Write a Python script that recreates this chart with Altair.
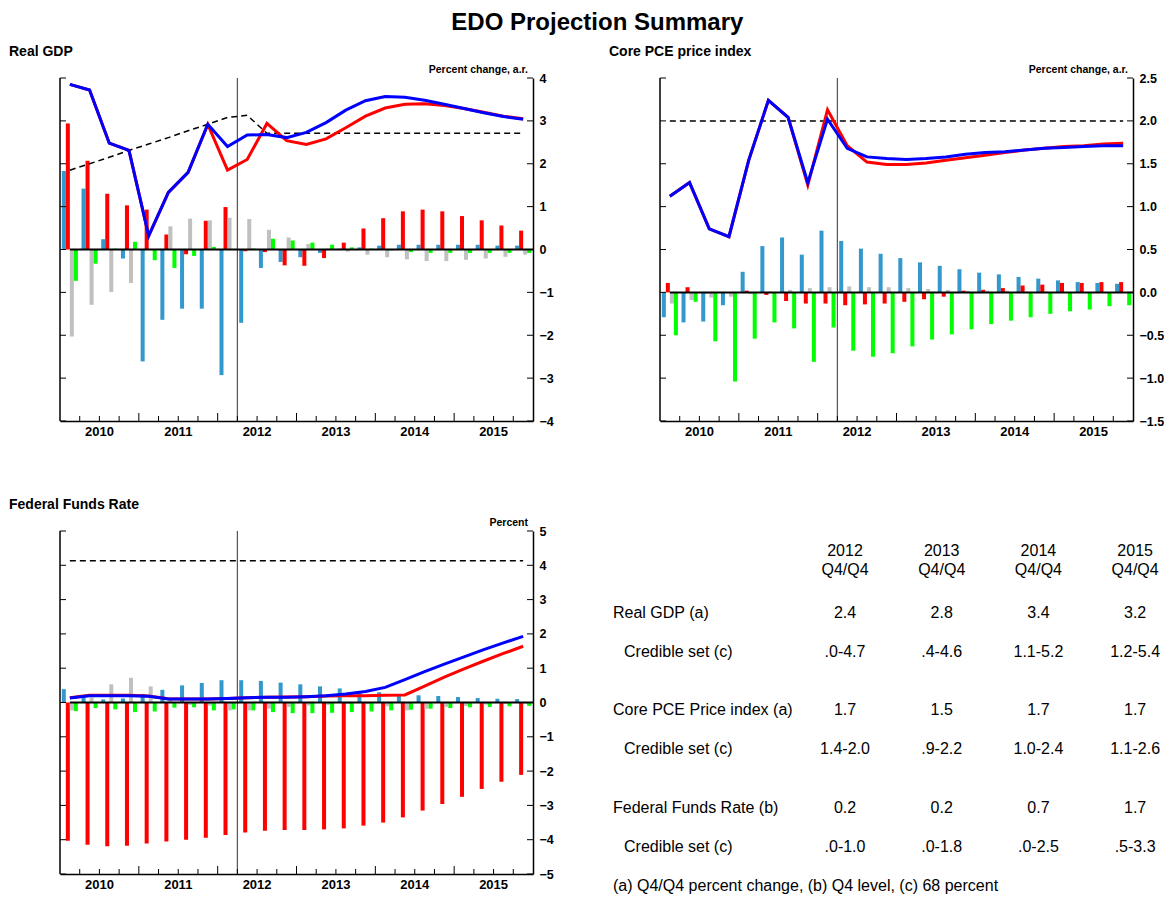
import altair as alt
import pandas as pd

FONT = "Liberation Sans"

QUARTERS = [f"{y}Q{q}" for y in range(2010, 2016) for q in range(1, 5)]
BAR_SERIES = ["s1", "s2", "s3", "s4"]
BAR_COLORS = ["#3399CC", "#FF0000", "#C0C0C0", "#00FF00"]
PROJECTION_START = "2012Q2"

# ---------------- Real GDP ----------------
GDP_S1 = [1.83, 1.42, 0.24, -0.21, -2.61, -1.64, -1.38, -1.38, -2.93, -1.71, -0.43, -0.29,
          -0.18, -0.08, 0.02, 0.05, 0.09, 0.11, 0.11, 0.11, 0.11, 0.11, 0.09, 0.09]
GDP_S2 = [2.94, 2.07, 1.30, 1.03, 0.93, 0.35, -0.11, 0.67, 0.99, -0.04, -0.06, -0.37,
          -0.38, -0.20, 0.16, 0.49, 0.73, 0.89, 0.93, 0.89, 0.78, 0.68, 0.56, 0.44]
GDP_S3 = [-2.03, -1.29, -0.99, -0.78, 0.00, 0.54, 0.72, 0.68, 0.74, 0.71, 0.46, 0.28,
          0.13, 0.02, -0.05, -0.12, -0.18, -0.23, -0.27, -0.27, -0.24, -0.21, -0.17, -0.12]
GDP_S4 = [-0.73, -0.33, 0.02, 0.18, -0.25, -0.43, -0.15, 0.06, 0.00, 0.02, 0.25, 0.21,
          0.16, 0.11, 0.05, 0.02, -0.02, -0.06, -0.08, -0.08, -0.08, -0.08, -0.08, -0.08]
GDP_BLUE = [3.85, 3.72, 2.48, 2.31, 0.32, 1.33, 1.80, 2.92, 2.40, 2.67, 2.68, 2.61,
            2.73, 2.96, 3.25, 3.47, 3.57, 3.55, 3.48, 3.39, 3.29, 3.19, 3.10, 3.04]
GDP_RED = [3.85, 3.72, 2.48, 2.31, 0.32, 1.33, 1.80, 2.92, 1.85, 2.10, 2.94, 2.54,
           2.45, 2.58, 2.84, 3.11, 3.30, 3.39, 3.40, 3.36, 3.29, 3.20, 3.11, 3.05]
GDP_DASH = [1.85, 2.00, 2.15, 2.31, 2.46, 2.61, 2.77, 2.92, 3.08, 3.13, 2.71, 2.71,
            2.71, 2.71, 2.71, 2.71, 2.71, 2.71, 2.71, 2.71, 2.71, 2.71, 2.71, 2.71]
GDP_TICKS = [-4, -3, -2, -1, 0, 1, 2, 3, 4]

# ---------------- Core PCE ----------------
PCE_S1 = [-0.29, -0.35, -0.34, -0.15, 0.24, 0.54, 0.64, 0.44, 0.72, 0.60, 0.51, 0.45,
          0.40, 0.35, 0.31, 0.27, 0.23, 0.21, 0.18, 0.16, 0.14, 0.12, 0.11, 0.10]
PCE_S2 = [0.11, 0.06, -0.01, 0.00, 0.02, -0.03, -0.10, -0.13, -0.13, -0.15, -0.14, -0.13,
          -0.11, -0.08, -0.05, 0.02, 0.03, 0.05, 0.08, 0.09, 0.11, 0.11, 0.12, 0.12]
PCE_S3 = [-0.13, -0.09, -0.06, -0.05, -0.02, 0.01, 0.03, 0.05, 0.06, 0.07, 0.06, 0.06,
          0.05, 0.04, 0.03, 0.02, 0.02, 0.02, 0.01, 0.01, 0.00, 0.00, 0.00, 0.00]
PCE_S4 = [-0.50, -0.11, -0.57, -1.04, -0.54, -0.35, -0.42, -0.81, -0.41, -0.68, -0.75, -0.71,
          -0.63, -0.55, -0.49, -0.43, -0.37, -0.33, -0.29, -0.25, -0.22, -0.20, -0.16, -0.15]
PCE_BLUE = [1.12, 1.28, 0.74, 0.65, 1.54, 2.24, 2.04, 1.28, 2.02, 1.68, 1.58, 1.56,
            1.55, 1.56, 1.58, 1.61, 1.63, 1.64, 1.66, 1.68, 1.69, 1.70, 1.71, 1.71]
PCE_RED = [1.12, 1.28, 0.74, 0.65, 1.54, 2.24, 2.04, 1.25, 2.13, 1.71, 1.52, 1.49,
           1.49, 1.51, 1.54, 1.57, 1.60, 1.63, 1.66, 1.68, 1.70, 1.71, 1.73, 1.74]
PCE_DASH = [2.0] * 24
PCE_TICKS = [-1.5, -1.0, -0.5, 0.0, 0.5, 1.0, 1.5, 2.0, 2.5]

# ---------------- Federal funds rate ----------------
FFR_S1 = [0.39, 0.15, 0.09, 0.12, 0.25, 0.37, 0.50, 0.57, 0.65, 0.65, 0.63, 0.58,
          0.53, 0.47, 0.41, 0.33, 0.30, 0.25, 0.21, 0.19, 0.16, 0.13, 0.11, 0.10]
FFR_S2 = [-4.03, -4.15, -4.19, -4.18, -4.11, -4.05, -4.00, -3.94, -3.86, -3.79, -3.74, -3.72,
          -3.72, -3.70, -3.67, -3.59, -3.50, -3.35, -3.15, -2.96, -2.75, -2.52, -2.31, -2.11]
FFR_S3 = [-0.23, 0.15, 0.53, 0.72, 0.47, 0.10, -0.07, -0.09, -0.23, -0.23, -0.18, -0.13,
          -0.09, -0.07, -0.04, -0.05, -0.11, -0.23, -0.18, -0.13, -0.10, -0.06, -0.04, -0.03]
FFR_S4 = [-0.25, -0.16, -0.20, -0.28, -0.26, -0.15, -0.14, -0.23, -0.20, -0.23, -0.28, -0.31,
          -0.31, -0.30, -0.28, -0.26, -0.23, -0.21, -0.18, -0.16, -0.14, -0.13, -0.11, -0.10]
FFR_BLUE = [0.13, 0.20, 0.20, 0.20, 0.18, 0.10, 0.10, 0.10, 0.12, 0.14, 0.15, 0.15,
            0.17, 0.20, 0.25, 0.32, 0.44, 0.67, 0.90, 1.12, 1.33, 1.54, 1.74, 1.93]
FFR_RED = [0.14, 0.21, 0.21, 0.21, 0.19, 0.11, 0.10, 0.10, 0.12, 0.14, 0.15, 0.16,
           0.17, 0.19, 0.20, 0.20, 0.21, 0.22, 0.48, 0.74, 0.98, 1.21, 1.43, 1.64]
FFR_DASH = [4.13] * 24
FFR_TICKS = [-5, -4, -3, -2, -1, 0, 1, 2, 3, 4, 5]

# ---------------- Table ----------------
TABLE_YEARS = ["2012", "2013", "2014", "2015"]
TABLE_SUB = "Q4/Q4"
TABLE_LABELS = ["Real GDP (a)", "Credible set (c)", "Core PCE Price index (a)",
                "Credible set (c)", "Federal Funds Rate (b)", "Credible set (c)"]
TABLE_VALUES = [
    ["2.4", "2.8", "3.4", "3.2"],
    [".0-4.7", ".4-4.6", "1.1-5.2", "1.2-5.4"],
    ["1.7", "1.5", "1.7", "1.7"],
    ["1.4-2.0", ".9-2.2", "1.0-2.4", "1.1-2.6"],
    ["0.2", "0.2", "0.7", "1.7"],
    [".0-1.0", ".0-1.8", ".0-2.5", ".5-3.3"],
]
FOOTNOTE = "(a) Q4/Q4 percent change, (b) Q4 level, (c) 68 percent"

W, H = 473, 343
ROW_PX = 39.0  # table line height


def panel(title, unit, bars, blue, red, dash, ydom, yvals, yfmt):
    xs = alt.Scale(type="band", domain=QUARTERS, paddingInner=0, paddingOuter=0)
    xaxis = alt.Axis(title=None, ticks=False, grid=False, domainColor="black", domainWidth=1.5,
                     labelOverlap=False, labelAngle=0, labelOffset=-W / 48.0,
                     labelExpr="indexof(datum.value,'Q3')>0 ? slice(datum.value,0,4) : ''",
                     labelFont=FONT, labelFontSize=13, labelFontWeight="bold",
                     labelColor="black", labelPadding=4)
    ys = alt.Scale(domain=ydom, nice=False, zero=False)
    yaxis = alt.Axis(title=None, orient="right", values=yvals, format=yfmt, ticks=False,
                     grid=False, domainColor="black", domainWidth=1.5, labelFont=FONT,
                     labelFontSize=12.5, labelFontWeight="bold", labelColor="black",
                     labelPadding=6)

    def X(band=None):
        if band is None:
            return alt.X("q:O", scale=xs, axis=xaxis)
        return alt.X("q:O", scale=xs, axis=xaxis, bandPosition=band)

    def Y(field="v"):
        return alt.Y(f"{field}:Q", scale=ys, axis=yaxis)

    bar_rows = []
    for s, vals in zip(BAR_SERIES, bars):
        for q, v in zip(QUARTERS, vals):
            bar_rows.append({"q": q, "s": s, "v": v})
    bar_df = pd.DataFrame(bar_rows)

    bars_layer = alt.Chart(bar_df).mark_bar().encode(
        x=X(),
        xOffset=alt.XOffset("s:N", scale=alt.Scale(domain=BAR_SERIES, paddingInner=0,
                                                   paddingOuter=0.45)),
        y=Y(),
        color=alt.Color("s:N", scale=alt.Scale(domain=BAR_SERIES, range=BAR_COLORS),
                        legend=None),
    )

    vline = alt.Chart(pd.DataFrame({"q": [PROJECTION_START]})).mark_rule(
        color="#555555", strokeWidth=1.2).encode(x=X(0))

    zero = alt.Chart(pd.DataFrame({"q": [QUARTERS[0]], "v": [0]})).mark_rule(
        color="black", strokeWidth=2).encode(x=X(), x2=alt.value(W), y=Y())

    dash_layer = alt.Chart(pd.DataFrame({"q": QUARTERS, "v": dash})).mark_line(
        color="black", strokeWidth=1.5, strokeDash=[6, 4]).encode(x=X(), y=Y())
    red_layer = alt.Chart(pd.DataFrame({"q": QUARTERS, "v": red})).mark_line(
        color="#FF0000", strokeWidth=3).encode(x=X(), y=Y())
    blue_layer = alt.Chart(pd.DataFrame({"q": QUARTERS, "v": blue})).mark_line(
        color="#0000FF", strokeWidth=3).encode(x=X(), y=Y())

    left_line = alt.Chart(pd.DataFrame({"a": [0]})).mark_rule(
        color="black", strokeWidth=1.5).encode(x=alt.value(0), y=alt.value(0), y2=alt.value(H))

    ytick_df = pd.DataFrame({"v": yvals})
    ytl = alt.Chart(ytick_df).mark_rule(color="black", strokeWidth=1).encode(
        y=Y(), x=alt.value(0), x2=alt.value(6))
    ytr = alt.Chart(ytick_df).mark_rule(color="black", strokeWidth=1).encode(
        y=Y(), x=alt.value(W - 6), x2=alt.value(W))

    minor_q = [q for q in QUARTERS[1:] if not q.endswith("Q1")]
    major_q = [q for q in QUARTERS[1:] if q.endswith("Q1")]
    xt_minor = alt.Chart(pd.DataFrame({"q": minor_q})).mark_rule(
        color="black", strokeWidth=1).encode(x=X(0), y=alt.value(H - 5), y2=alt.value(H))
    xt_major = alt.Chart(pd.DataFrame({"q": major_q})).mark_rule(
        color="black", strokeWidth=1).encode(x=X(0), y=alt.value(H - 8), y2=alt.value(H))

    ttl = alt.Chart(pd.DataFrame({"t": [title]})).mark_text(
        align="left", baseline="alphabetic", font=FONT, fontSize=14, fontWeight="bold",
        color="black").encode(text="t:N", x=alt.value(-51), y=alt.value(-22))
    unit_t = alt.Chart(pd.DataFrame({"t": [unit]})).mark_text(
        align="right", baseline="alphabetic", font=FONT, fontSize=10.5, fontWeight="bold",
        color="black").encode(text="t:N", x=alt.value(W - 5), y=alt.value(-5))

    return alt.layer(bars_layer, vline, zero, dash_layer, red_layer, blue_layer,
                     left_line, ytl, ytr, xt_minor, xt_major, ttl, unit_t).properties(
        width=W, height=H)


gdp = panel("Real GDP", "Percent change, a.r.", [GDP_S1, GDP_S2, GDP_S3, GDP_S4],
            GDP_BLUE, GDP_RED, GDP_DASH, [-4, 4], GDP_TICKS, "d")
pce = panel("Core PCE price index", "Percent change, a.r.", [PCE_S1, PCE_S2, PCE_S3, PCE_S4],
            PCE_BLUE, PCE_RED, PCE_DASH, [-1.5, 2.5], PCE_TICKS, ".1f")
ffr = panel("Federal Funds Rate", "Percent", [FFR_S1, FFR_S2, FFR_S3, FFR_S4],
            FFR_BLUE, FFR_RED, FFR_DASH, [-5, 5], FFR_TICKS, "d")

# ---- table (rows measured in text lines) ----
FIRST_ROW = 2.1
GROUP_STEP = 2.5
HEADER_ROWS = [0.52, 1.0]
FOOT_ROW = 9.1


def row_of(i):
    return FIRST_ROW + (i // 2) * GROUP_STEP + (i % 2)


cell_rows = []
for i, vals in enumerate(TABLE_VALUES):
    for c, v in enumerate(vals):
        cell_rows.append({"c": c + 1, "r": row_of(i), "t": v})
for c, yr in enumerate(TABLE_YEARS):
    cell_rows.append({"c": c + 1, "r": HEADER_ROWS[0], "t": yr})
    cell_rows.append({"c": c + 1, "r": HEADER_ROWS[1], "t": TABLE_SUB})
cell_df = pd.DataFrame(cell_rows)

main_df = pd.DataFrame({"r": [row_of(i) for i in range(0, 6, 2)], "t": TABLE_LABELS[0::2]})
sub_df = pd.DataFrame({"r": [row_of(i) for i in range(1, 6, 2)], "t": TABLE_LABELS[1::2]})
foot_df = pd.DataFrame({"r": [FOOT_ROW], "t": [FOOTNOTE]})

tx = alt.Scale(domain=[-0.913, 3.978], nice=False, zero=False)
ty = alt.Scale(domain=[0, H / ROW_PX], nice=False, zero=False, reverse=True)

txt = dict(font=FONT, fontSize=16, color="black", baseline="middle")
cells = alt.Chart(cell_df).mark_text(align="center", **txt).encode(
    x=alt.X("c:Q", scale=tx, axis=None), y=alt.Y("r:Q", scale=ty, axis=None), text="t:N")
labels_main = alt.Chart(main_df).mark_text(align="left", **txt).encode(
    x=alt.value(-47), y=alt.Y("r:Q", scale=ty, axis=None), text="t:N")
labels_sub = alt.Chart(sub_df).mark_text(align="left", **txt).encode(
    x=alt.value(-36), y=alt.Y("r:Q", scale=ty, axis=None), text="t:N")
foot = alt.Chart(foot_df).mark_text(align="left", **txt).encode(
    x=alt.value(-47), y=alt.Y("r:Q", scale=ty, axis=None), text="t:N")

table = alt.layer(cells, labels_main, labels_sub, foot).properties(width=W, height=H)

chart = alt.concat(gdp, pce, ffr, table, columns=2).properties(
    spacing={"row": 110, "column": 127},
    bounds="flush",
    title=alt.TitleParams("EDO Projection Summary", font=FONT, fontSize=24,
                          fontWeight="bold", anchor="middle", color="black", offset=10,
                          dx=11),
    padding={"left": 1, "top": 3, "right": 0, "bottom": 0},
).configure(font=FONT).configure_view(stroke=None)

chart.save("out.html", embed_options={"renderer": "svg", "actions": False})
